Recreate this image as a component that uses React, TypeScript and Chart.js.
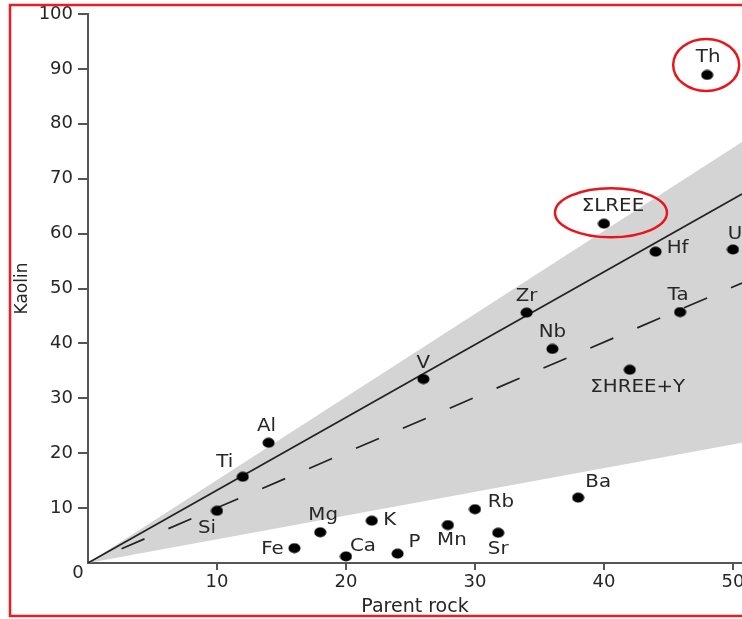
import React, { useEffect, useRef } from 'react';
import { Chart, registerables } from 'chart.js';

Chart.register(...registerables);

// ---- data ----
const elementNames = ['Th', 'ΣLREE', 'Hf', 'U', 'Ta', 'ΣHREE+Y', 'Nb', 'Zr', 'V', 'Al', 'Ti', 'Si', 'Fe', 'Mg', 'K', 'Ca', 'P', 'Mn', 'Rb', 'Sr', 'Ba'];
const parentRock = [48, 40, 44, 50, 45.9, 42, 36, 34, 26, 14, 12, 10, 16, 18, 22, 20, 24, 27.9, 30, 31.8, 38];
const kaolin = [88.9, 61.8, 56.7, 57.1, 45.7, 35.2, 39, 45.6, 33.5, 21.9, 15.7, 9.5, 2.7, 5.6, 7.7, 1.2, 1.7, 6.9, 9.8, 5.5, 11.9];
const circledElements = ['Th', 'ΣLREE'];

const xTickValues = [10, 20, 30, 40, 50];
const yTickValues = [10, 20, 30, 40, 50, 60, 70, 80, 90, 100];

const bandX = [0, 50.7];
const bandUpper = [0, 76.7];
const bandLower = [0, 21.9];
const solidX = [0, 50.7];
const solidY = [0, 67.2];
const dashedX = [2.6, 50.7];
const dashedY = [2.6, 51];

// ---- label layout (pixel offsets of each label from its dot) ----
const labelOffsets: Record<string, [number, number]> = {
  'Th': [1, -18], 'ΣLREE': [9, -17], 'Hf': [22, -3], 'U': [2, -15], 'Ta': [-2, -17],
  'ΣHREE+Y': [8, 18], 'Nb': [0, -17], 'Zr': [0, -16], 'V': [0, -16], 'Al': [-2, -16],
  'Ti': [-18, -14], 'Si': [-10, 17], 'Fe': [-22, 1], 'Mg': [3, -17], 'K': [18, 0],
  'Ca': [17, -10], 'P': [17, -11], 'Mn': [4, 15], 'Rb': [26, -7], 'Sr': [0, 17], 'Ba': [20, -15],
};
const ellipseShapes: Record<string, [number, number, number, number]> = {
  'Th': [-1, -10, 33, 26],
  'ΣLREE': [7, -11, 56, 24.5],
};

const FONT = '"DejaVu Sans", sans-serif';
const TEXT = '#262626';
const AXIS = '#555555';

const toXY = (xs: number[], ys: number[]) => xs.map((x, i) => ({ x, y: ys[i] }));

export default function App() {
  const ref = useRef<HTMLCanvasElement | null>(null);

  useEffect(() => {
    document.body.style.margin = '0';
    const canvas = ref.current;
    if (!canvas) return;

    const dot = document.createElement('canvas');
    dot.width = 13;
    dot.height = 11;
    const dc = dot.getContext('2d')!;
    dc.fillStyle = '#000';
    dc.beginPath();
    dc.ellipse(6.5, 5.5, 6, 5, 0, 0, Math.PI * 2);
    dc.fill();

    const decorations = {
      id: 'decorations',
      afterDatasetsDraw(chart: any) {
        const ctx = chart.ctx;
        const meta = chart.getDatasetMeta(4);
        ctx.save();
        ctx.fillStyle = TEXT;
        ctx.font = `18px ${FONT}`;
        ctx.textAlign = 'center';
        ctx.textBaseline = 'middle';
        elementNames.forEach((name, i) => {
          const pt = meta.data[i];
          const off = labelOffsets[name] || [0, -16];
          ctx.save();
          ctx.translate(pt.x + off[0], pt.y + off[1]);
          ctx.scale(1.1, 1);
          ctx.fillText(name, 0, 0);
          ctx.restore();
        });
        ctx.strokeStyle = '#e8161c';
        ctx.lineWidth = 2.5;
        elementNames.forEach((name, i) => {
          if (!circledElements.includes(name)) return;
          const pt = meta.data[i];
          const e = ellipseShapes[name];
          ctx.beginPath();
          ctx.ellipse(pt.x + e[0], pt.y + e[1], e[2], e[3], 0, 0, Math.PI * 2);
          ctx.stroke();
        });
        // shared origin label
        const area = chart.chartArea;
        ctx.font = `18px ${FONT}`;
        ctx.fillText('0', area.left - 10, area.bottom + 10);
        ctx.restore();
      },
      afterDraw(chart: any) {
        const ctx = chart.ctx;
        ctx.save();
        ctx.strokeStyle = '#ec1c24';
        ctx.lineWidth = 2.5;
        ctx.strokeRect(10, 5, 900, 611);
        ctx.restore();
      },
    };

    const chart = new Chart(canvas, {
      type: 'scatter',
      data: {
        datasets: [
          {
            type: 'line',
            data: toXY(bandX, bandUpper),
            borderColor: 'rgba(0,0,0,0)',
            borderWidth: 0,
            pointRadius: 0,
            fill: false,
            order: 3,
          },
          {
            type: 'line',
            data: toXY(bandX, bandLower),
            borderColor: 'rgba(0,0,0,0)',
            borderWidth: 0,
            pointRadius: 0,
            backgroundColor: '#d4d4d4',
            fill: '-1',
            order: 3,
          },
          {
            type: 'line',
            data: toXY(solidX, solidY),
            borderColor: '#222',
            borderWidth: 1.7,
            pointRadius: 0,
            fill: false,
            order: 2,
          },
          {
            type: 'line',
            data: toXY(dashedX, dashedY),
            borderColor: '#222',
            borderWidth: 1.7,
            borderDash: [25, 26],
            pointRadius: 0,
            fill: false,
            order: 2,
          },
          {
            type: 'scatter',
            data: toXY(parentRock, kaolin),
            pointStyle: dot as any,
            pointRadius: 6,
            backgroundColor: '#000',
            borderColor: '#000',
            order: 1,
          },
        ],
      },
      options: {
        responsive: false,
        animation: false,
        events: [],
        layout: { autoPadding: false, padding: { top: 14, right: 0, bottom: 0, left: 0 } },
        plugins: {
          legend: { display: false },
          tooltip: { enabled: false },
        },
        scales: {
          x: {
            type: 'linear',
            min: 0,
            max: 50.7,
            afterBuildTicks: (s: any) => {
              s.ticks = xTickValues.map((v) => ({ value: v }));
            },
            afterFit: (s: any) => {
              s.height = 56;
              s.paddingRight = 0;
              s.paddingLeft = 0;
            },
            grid: { display: true, drawOnChartArea: false, drawTicks: true, tickLength: 7, color: AXIS, lineWidth: 2 },
            border: { display: true, color: AXIS, width: 2 },
            ticks: {
              color: TEXT,
              font: { family: FONT, size: 18 },
              padding: 2,
              maxRotation: 0,
            },
            title: {
              display: true,
              text: 'Parent rock',
              color: TEXT,
              font: { family: FONT, size: 19 },
              padding: { top: 0, bottom: 1 },
            },
          },
          y: {
            type: 'linear',
            min: 0,
            max: 100,
            afterBuildTicks: (s: any) => {
              s.ticks = yTickValues.map((v) => ({ value: v }));
            },
            afterFit: (s: any) => {
              s.width = 88;
              s.paddingTop = 0;
              s.paddingBottom = 0;
            },
            grid: { display: true, drawOnChartArea: false, drawTicks: true, tickLength: 10, color: AXIS, lineWidth: 2 },
            border: { display: true, color: AXIS, width: 2 },
            ticks: {
              color: TEXT,
              font: { family: FONT, size: 18 },
              padding: 5,
            },
            title: {
              display: true,
              text: 'Kaolin',
              color: TEXT,
              font: { family: FONT, size: 17 },
              padding: { top: 12, bottom: 0 },
            },
          },
        },
      },
      plugins: [decorations],
    } as any);

    return () => chart.destroy();
  }, []);

  return (
    <div style={{ width: 742, height: 619, position: 'relative', background: '#fff' }}>
      <canvas ref={ref} width={742} height={619} />
    </div>
  );
}
